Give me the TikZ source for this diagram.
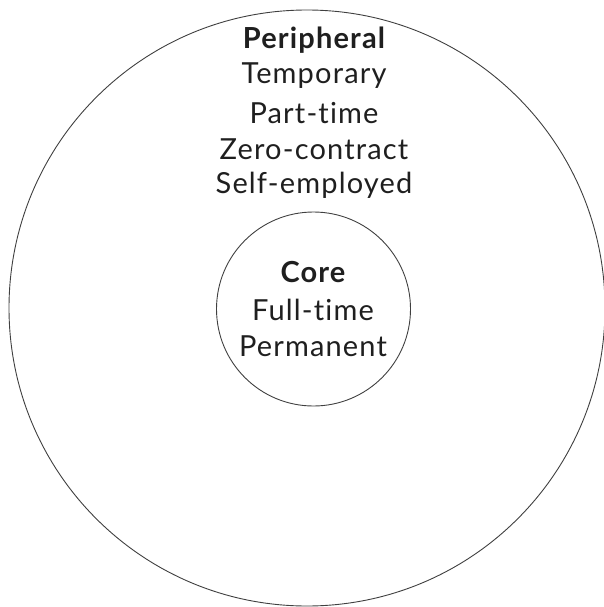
\documentclass[tikz,border=0pt]{standalone}
\usepackage{fontspec}
\setmainfont[Ligatures=NoCommon,LetterSpace=4]{Lato}
\begin{document}
\begin{tikzpicture}[x=1pt,y=-1pt,
  ring/.style={draw=black!75,line width=0.9pt,circle,inner sep=0pt},
  lbl/.style={font=\fontsize{29}{36}\selectfont,text=black!88,inner sep=0pt,anchor=center}]
\useasboundingbox (0,0) rectangle (604,607);
\node[ring,minimum size=596pt] (outer) at (307,308) {};
\node[ring,minimum size=194pt] (inner) at (313.5,309) {};
\node[lbl,font=\fontsize{29}{36}\selectfont\bfseries] (p) at (314,40) {Peripheral};
\node[lbl] (t1) at (314,76) {Temporary};
\node[lbl] (t2) at (314,113) {Part-time};
\node[lbl] (t3) at (314,149) {Zero-contract};
\node[lbl] (t4) at (314,185) {Self-employed};
\node[lbl,font=\fontsize{29}{36}\selectfont\bfseries] (c) at (313,272) {Core};
\node[lbl] (c1) at (313,310) {Full-time};
\node[lbl] (c2) at (313,346) {Permanent};
\end{tikzpicture}
\end{document}
